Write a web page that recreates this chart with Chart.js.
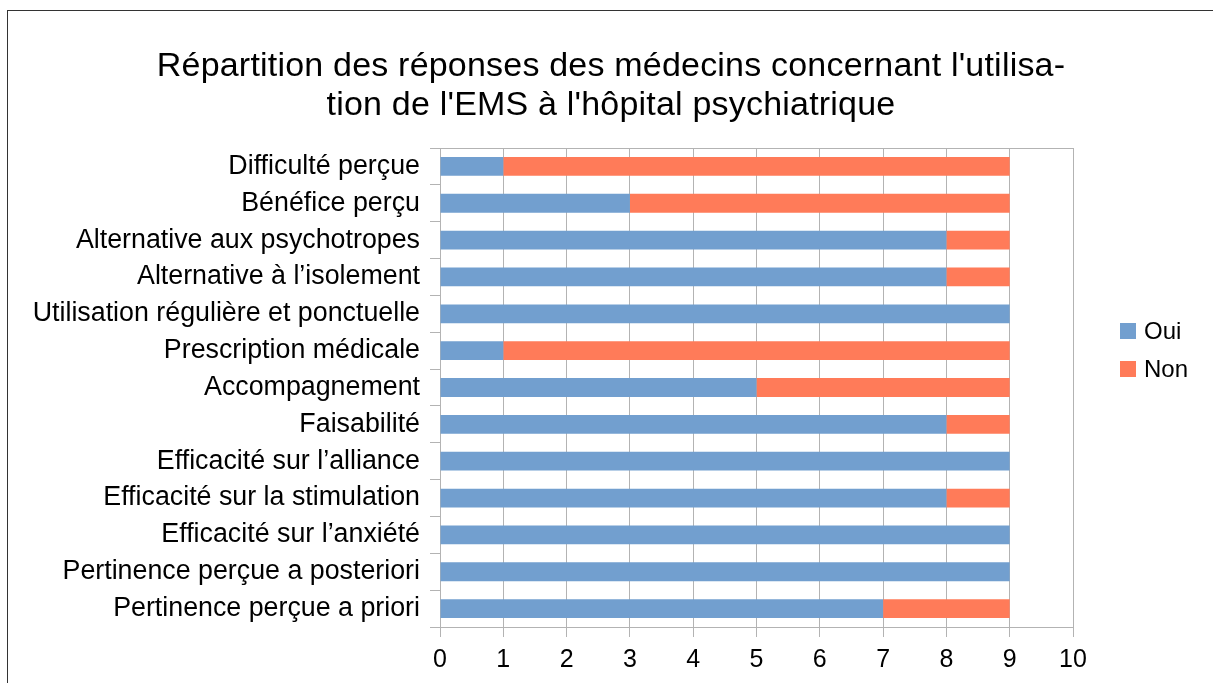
<!DOCTYPE html>
<html>
<head>
<meta charset="utf-8">
<script src="https://cdn.jsdelivr.net/npm/chart.js@4/dist/chart.umd.min.js"></script>
<style>
  html, body { margin: 0; padding: 0; background: #fff; overflow: hidden; }
  #wrap { position: relative; width: 1213px; height: 683px; }
  #frame { position: absolute; left: 7px; top: 10px; width: 1300px; height: 800px; border: 1.5px solid #333; box-sizing: border-box; }
  #chart { position: absolute; left: 0; top: 0; }
  #title { position: absolute; left: 0; top: 45px; width: 1222px; text-align: center;
           font-family: "Liberation Sans", Arial, sans-serif; font-size: 34px; line-height: 39px;
           letter-spacing: 0.2px; color: #000; }
  #legend { position: absolute; left: 1120px; top: 312px; font-family: "Liberation Sans", Arial, sans-serif; font-size: 24px; color: #000; }
  .item { display: flex; align-items: center; height: 38px; }
  .swatch { width: 16px; height: 16px; margin-right: 8px; }
</style>
</head>
<body>
<div id="wrap">
  <div id="frame"></div>
  <canvas id="chart" width="1213" height="683"></canvas>
  <div id="title"></div>
  <div id="legend"></div>
</div>
<script>
// --- Data ---
const titleLines = [
  "Répartition des réponses des médecins concernant l'utilisa-",
  "tion de l'EMS à l'hôpital psychiatrique"
];

const categories = [
  "Difficulté perçue",
  "Bénéfice perçu",
  "Alternative aux psychotropes",
  "Alternative à l’isolement",
  "Utilisation régulière et ponctuelle",
  "Prescription médicale",
  "Accompagnement",
  "Faisabilité",
  "Efficacité sur l’alliance",
  "Efficacité sur la stimulation",
  "Efficacité sur l’anxiété",
  "Pertinence perçue a posteriori",
  "Pertinence perçue a priori"
];

const ouiValues = [1, 3, 8, 8, 9, 1, 5, 8, 9, 8, 9, 9, 7];
const nonValues = [8, 6, 1, 1, 0, 8, 4, 1, 0, 1, 0, 0, 2];

const seriesNames = ["Oui", "Non"];
const seriesColors = ["#729fcf", "#ff7b59"];

const gridColor = "#b3b3b3";
const font = "'Liberation Sans', Arial, sans-serif";

// --- Title (two lines, centred on the page) ---
const titleEl = document.getElementById("title");
titleLines.forEach((line) => {
  const d = document.createElement("div");
  d.textContent = line;
  titleEl.appendChild(d);
});

// --- Chart ---
const ctx = document.getElementById("chart").getContext("2d");

new Chart(ctx, {
  type: "bar",
  data: {
    labels: categories,
    datasets: [
      { label: seriesNames[0], data: ouiValues, backgroundColor: seriesColors[0] },
      { label: seriesNames[1], data: nonValues, backgroundColor: seriesColors[1] }
    ]
  },
  options: {
    indexAxis: "y",
    responsive: false,
    animation: false,
    barPercentage: 0.51,
    categoryPercentage: 1,
    layout: { padding: { left: 0, right: 140, top: 148, bottom: 0 } },
    plugins: {
      legend: { display: false },
      tooltip: { enabled: false },
      title: { display: false }
    },
    scales: {
      x: {
        stacked: true,
        min: 0,
        max: 10,
        ticks: { stepSize: 1, color: "#000", font: { family: font, size: 25 }, padding: 8 },
        grid: { color: gridColor, tickLength: 10, lineWidth: 1 },
        border: { color: gridColor },
        afterFit: (scale) => { scale.height = 56; }
      },
      y: {
        stacked: true,
        ticks: { color: "#000", font: { family: font, size: 26.8 }, padding: 10 },
        grid: {
          offset: true,
          tickLength: 10,
          tickColor: gridColor,
          color: (c) => (c.index === 0 ? gridColor : "rgba(0,0,0,0)")
        },
        border: { color: gridColor },
        afterFit: (scale) => { scale.width = 440; }
      }
    }
  }
});

// --- Legend (HTML) ---
const legend = document.getElementById("legend");
seriesNames.forEach((name, i) => {
  const item = document.createElement("div");
  item.className = "item";
  const sw = document.createElement("span");
  sw.className = "swatch";
  sw.style.background = seriesColors[i];
  const txt = document.createElement("span");
  txt.textContent = name;
  item.appendChild(sw);
  item.appendChild(txt);
  legend.appendChild(item);
});
</script>
</body>
</html>
